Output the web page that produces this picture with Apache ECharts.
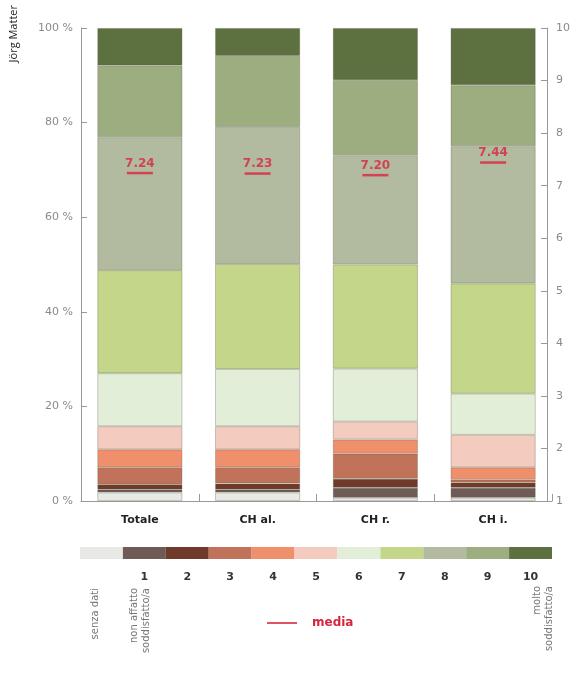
<!DOCTYPE html>
<html><head><meta charset="utf-8">
<script src="https://cdn.jsdelivr.net/npm/echarts@6/dist/echarts.min.js"></script>
<style>html,body{margin:0;padding:0;background:#fff}#c{width:580px;height:674px}</style>
</head><body><div id="c"></div>
<script>
const categories = ['Totale', 'CH al.', 'CH r.', 'CH i.'];
const levels = ['senza dati', '1', '2', '3', '4', '5', '6', '7', '8', '9', '10'];
const levelColors = ['#e8e8e4', '#6e5b55', '#6f3a2a', '#c0735a', '#f08f6c', '#f3cbbf', '#e3eed8', '#c3d68a', '#b2bba0', '#9cad80', '#5d703f'];
const sSenza = [1.8, 1.8, 0.7, 0.7];
const s1 = [0.6, 0.6, 2.1, 2.1];
const s2 = [1.1, 1.3, 1.9, 1.1];
const s3 = [3.6, 3.4, 5.3, 0.6];
const s4 = [3.8, 3.8, 3.0, 2.6];
const s5 = [4.9, 4.9, 3.8, 6.9];
const s6 = [11.2, 12.1, 11.2, 8.7];
const s7 = [21.8, 22.2, 22.0, 23.3];
const s8 = [28.1, 29.0, 23.1, 29.0];
const s9 = [15.2, 15.0, 15.9, 12.9];
const s10 = [7.9, 5.9, 11.0, 12.1];
const means = [7.24, 7.23, 7.20, 7.44];
const pctMin = 0, pctMax = 100, pctStep = 20;
const scoreMin = 1, scoreMax = 10, scoreStep = 1;
const author = 'Jörg Matter';
const lowLabel = 'non affatto\nsoddisfatto/a';
const highLabel = 'molto\nsoddisfatto/a';
const naLabel = 'senza dati';
const meanName = 'media';

const stackData = [sSenza, s1, s2, s3, s4, s5, s6, s7, s8, s9, s10];
const FONT = 'DejaVu Sans';
const RED = '#d9243d';
const GREY = '#8a8a8a';

const series = stackData.map((d, i) => ({
  name: levels[i],
  type: 'bar',
  stack: 'tot',
  xAxisIndex: 0, yAxisIndex: 0,
  barWidth: 85,
  data: d,
  itemStyle: { color: levelColors[i], borderColor: 'rgba(90,90,70,0.4)', borderWidth: 0.8 },
  silent: true
}));

series.push({
  name: meanName,
  type: 'scatter',
  xAxisIndex: 0, yAxisIndex: 1,
  symbol: 'rect',
  symbolSize: [26, 2.5],
  itemStyle: { color: RED },
  z: 10,
  data: means,
  label: {
    show: true, position: 'top', distance: 2,
    formatter: p => p.value.toFixed(2),
    color: RED, fontWeight: 'bold', fontSize: 12, fontFamily: FONT
  }
});

series.push({
  name: 'scale',
  type: 'bar',
  xAxisIndex: 1, yAxisIndex: 2,
  barWidth: '100%',
  silent: true,
  data: levels.map((l, i) => ({ value: 1, itemStyle: { color: levelColors[i] } }))
});

const option = {
  animation: false,
  backgroundColor: '#fff',
  textStyle: { fontFamily: FONT },
  grid: [
    { left: 81, right: 28, top: 28, bottom: 173 },
    { left: 80, right: 28, top: 547, height: 12 }
  ],
  xAxis: [
    {
      type: 'category', gridIndex: 0, data: categories,
      axisLine: { lineStyle: { color: '#999', width: 1 } },
      axisTick: { show: true, inside: true, length: 7, lineStyle: { color: '#999' } },
      axisLabel: { color: '#222', fontWeight: 'bold', fontSize: 11, margin: 14, fontFamily: FONT }
    },
    {
      type: 'category', gridIndex: 1, data: levels,
      axisLine: { show: false }, axisTick: { show: false },
      axisLabel: { color: '#333', fontWeight: 'bold', fontSize: 11, margin: 13, fontFamily: FONT,
        formatter: v => (v === naLabel ? '' : v) }
    }
  ],
  yAxis: [
    {
      type: 'value', gridIndex: 0, min: pctMin, max: pctMax, interval: pctStep,
      axisLine: { show: true, lineStyle: { color: '#999' } },
      axisTick: { show: true, inside: true, length: 6, lineStyle: { color: '#999' } },
      splitLine: { show: false },
      axisLabel: { color: GREY, fontSize: 11, margin: 8, formatter: '{value} %', fontFamily: FONT }
    },
    {
      type: 'value', gridIndex: 0, position: 'right', offset: -5,
      min: scoreMin, max: scoreMax, interval: scoreStep,
      axisLine: { show: true, lineStyle: { color: '#999' } },
      axisTick: { show: true, inside: true, length: 6, lineStyle: { color: '#999' } },
      splitLine: { show: false },
      axisLabel: { color: GREY, fontSize: 11, margin: 9, fontFamily: FONT }
    },
    { type: 'value', gridIndex: 1, min: 0, max: 1, show: false }
  ],
  legend: {
    data: [{ name: meanName, icon: 'rect' }],
    left: 262, top: 612,
    itemWidth: 30, itemHeight: 2,
    textStyle: { color: RED, fontWeight: 'bold', fontSize: 12, fontFamily: FONT, padding: [0, 0, 0, 10] },
    selectedMode: false
  },
  graphic: [
    { type: 'text', x: 14, y: 5, rotation: Math.PI / 2,
      style: { text: author, align: 'right', verticalAlign: 'middle', font: '11px "Open Sans"', fill: '#222' } },
    { type: 'text', x: 95, y: 588, rotation: Math.PI / 2,
      style: { text: naLabel, align: 'right', verticalAlign: 'middle', font: '10px "DejaVu Sans"', fill: '#777' } },
    { type: 'text', x: 140, y: 588, rotation: Math.PI / 2,
      style: { text: lowLabel, align: 'right', verticalAlign: 'middle', font: '10px "DejaVu Sans"', lineHeight: 12, fill: '#777' } },
    { type: 'text', x: 543, y: 586, rotation: Math.PI / 2,
      style: { text: highLabel, align: 'right', verticalAlign: 'middle', font: '10px "DejaVu Sans"', lineHeight: 12, fill: '#777' } }
  ],
  series: series
};

const chart = echarts.init(document.getElementById('c'), null, { renderer: 'canvas' });
chart.setOption(option);
</script>
</body></html>
